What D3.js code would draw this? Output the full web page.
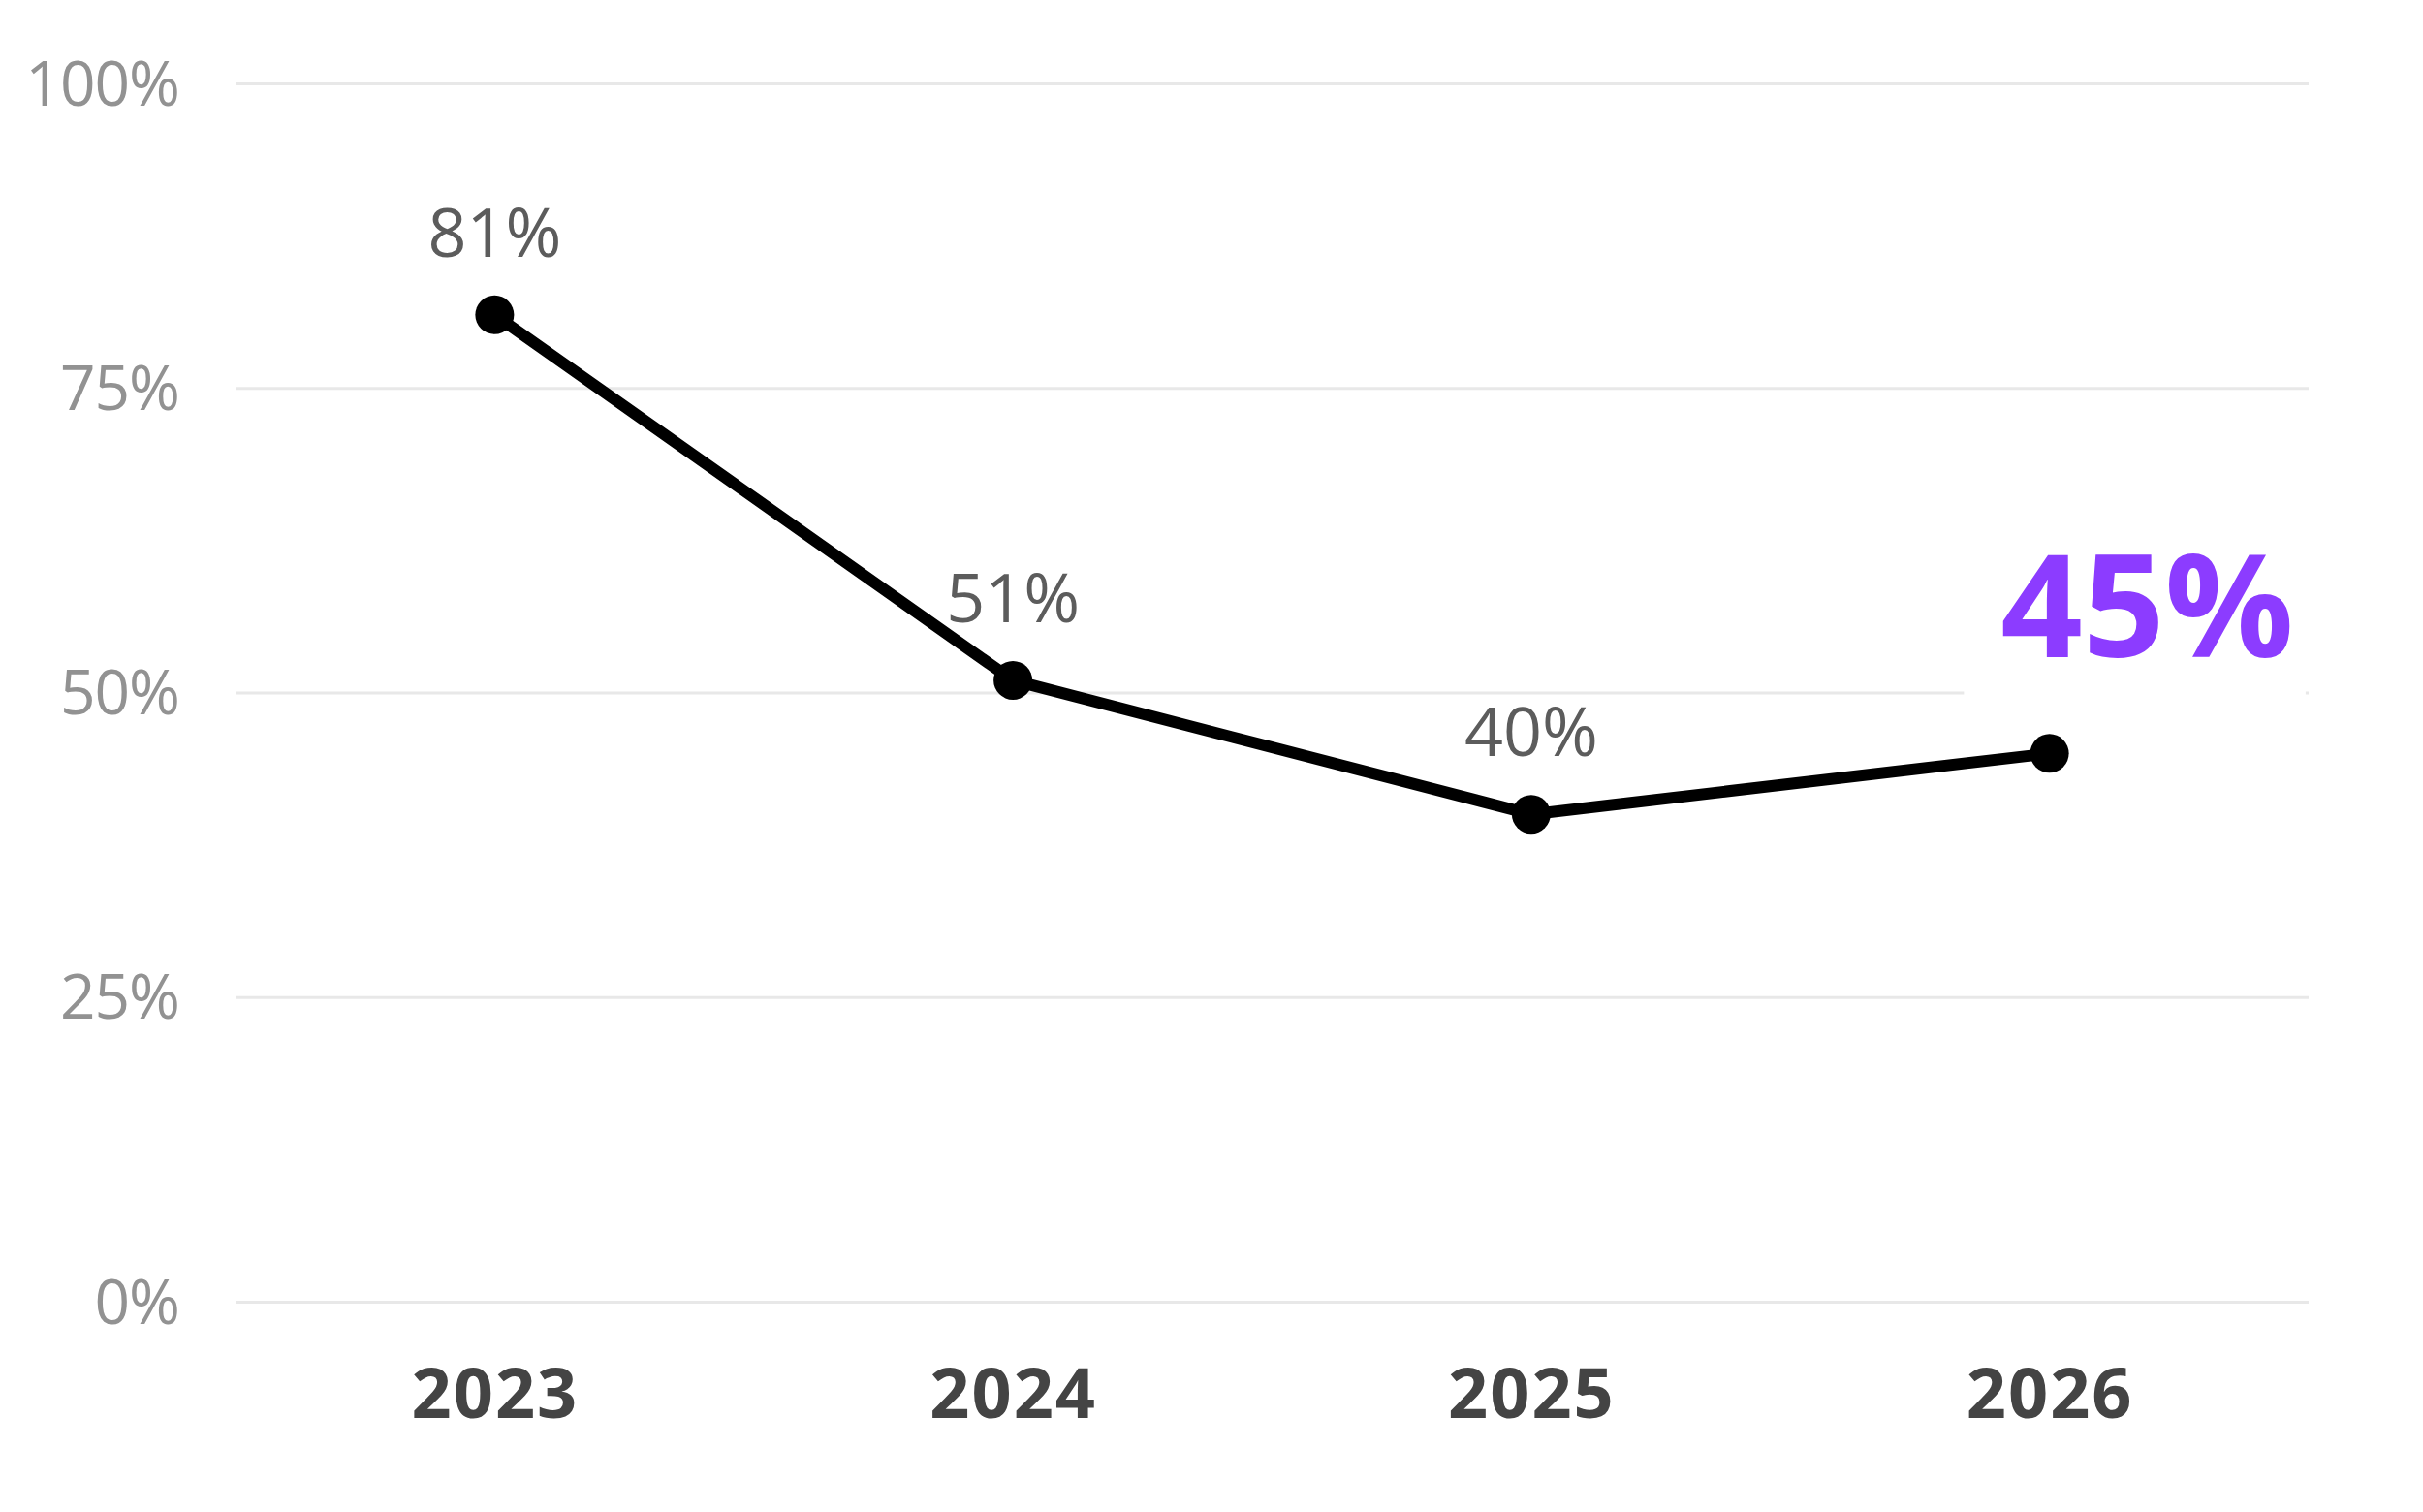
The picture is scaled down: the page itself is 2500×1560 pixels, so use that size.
<!DOCTYPE html>
<html>
<head>
<meta charset="utf-8">
<script src="https://cdn.jsdelivr.net/npm/d3@7"></script>
<style>
  html, body { margin: 0; padding: 0; background: #fff; }
  svg { display: block; }
</style>
</head>
<body>
<svg id="chart" width="2500" height="1560"></svg>
<script>
const years = ["2023", "2024", "2025", "2026"];
const values = [81, 51, 40, 45];
const yTicks = [0, 25, 50, 75, 100];
const highlightYear = "2026";

const FONT = "'Open Sans', 'Noto Sans', sans-serif";
const svg = d3.select("#chart").attr("font-family", FONT);
const margin = { left: 243, right: 118, top: 86, bottom: 217 };
const W = 2500, H = 1560;

const x = d3.scalePoint().domain(years).range([margin.left, W - margin.right]).padding(0.5);
const y = d3.scaleLinear().domain([0, 100]).range([H - margin.bottom, margin.top]);

// Gridlines + y tick labels
const yAxis = svg.append("g")
  .attr("transform", `translate(${margin.left},0)`)
  .call(d3.axisLeft(y).tickValues(yTicks).tickFormat(d => d + "%")
    .tickSize(-(W - margin.left - margin.right)).tickPadding(58))
  .attr("font-family", FONT).attr("font-size", null);
yAxis.select(".domain").remove();
yAxis.selectAll(".tick line").attr("stroke", "#e8e8e8").attr("stroke-width", 3);
yAxis.selectAll(".tick text")
  .attr("fill", "#929292").attr("font-size", 64).attr("font-weight", 400)
  .attr("dy", null).attr("y", 22).attr("letter-spacing", -1);

// X axis labels
const xAxis = svg.append("g")
  .attr("transform", `translate(0,${H - margin.bottom})`)
  .call(d3.axisBottom(x).tickSize(0))
  .attr("font-family", FONT).attr("font-size", null);
xAxis.select(".domain").remove();
xAxis.selectAll(".tick text")
  .attr("fill", "#444").attr("font-size", 72).attr("font-weight", 700)
  .attr("letter-spacing", 2)
  .attr("dy", null).attr("y", 120);

const data = years.map((yr, i) => ({ year: yr, value: values[i] }));

// Line
svg.append("path")
  .datum(data)
  .attr("fill", "none")
  .attr("stroke", "#000")
  .attr("stroke-width", 12)
  .attr("stroke-linejoin", "round")
  .attr("d", d3.line().x(d => x(d.year)).y(d => y(d.value)));

// Dots
svg.append("g").selectAll("circle")
  .data(data).join("circle")
  .attr("cx", d => x(d.year)).attr("cy", d => y(d.value))
  .attr("r", 20).attr("fill", "#000");

// Value labels
const normal = data.filter(d => d.year !== highlightYear);
svg.append("g").selectAll("text")
  .data(normal).join("text")
  .attr("x", d => x(d.year)).attr("y", d => y(d.value) - 60)
  .attr("text-anchor", "middle")
  .attr("fill", "#5c5c5c").attr("font-size", 70).attr("font-weight", 400)
  .text(d => d.value + "%");

// Highlight label with white background
const hl = data.find(d => d.year === highlightYear);
const hg = svg.append("g");
const bg = hg.append("rect").attr("fill", "#fff");
const ht = hg.append("text")
  .attr("x", x(hl.year) + 101).attr("y", y(hl.value) - 99)
  .attr("text-anchor", "middle")
  .attr("fill", "#8c3cff").attr("font-size", 148).attr("font-weight", 700)
  .text(hl.value + "%");
const bb = ht.node().getBBox();
bg.attr("x", bb.x - 38).attr("y", bb.y - 10).attr("width", bb.width + 50).attr("height", bb.height + 40);
</script>
</body>
</html>
